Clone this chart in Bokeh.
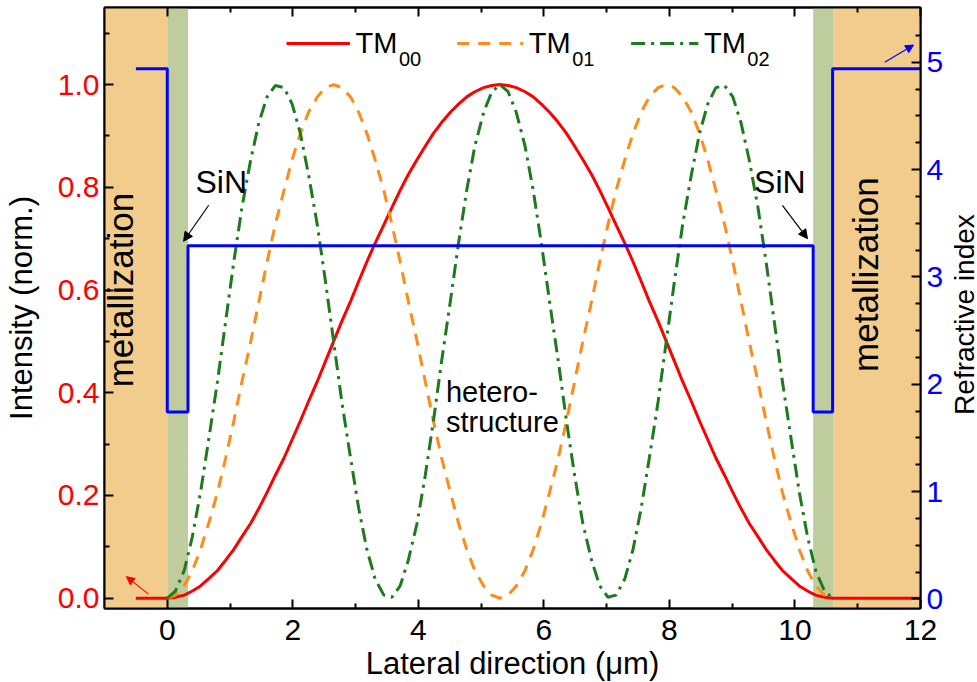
import numpy as np
from bokeh.plotting import figure
from bokeh.layouts import row
from bokeh.models import (Range1d, LinearAxis, FixedTicker, BoxAnnotation, Label,
                          Arrow, NormalHead, PrintfTickFormatter, CustomJSTickFormatter)
from bokeh.core.properties import value
from bokeh.embed import file_html
from bokeh.resources import INLINE

# ---------------- data ----------------
lateral_um = [0.00, 0.13, 0.27, 0.40, 0.53, 0.66, 0.80, 0.93, 1.06, 1.19, 1.33, 1.46, 1.59, 1.72,
              1.86, 1.99, 2.12, 2.25, 2.39, 2.52, 2.65, 2.78, 2.92, 3.05, 3.18, 3.31, 3.45, 3.58,
              3.71, 3.84, 3.98, 4.11, 4.24, 4.37, 4.51, 4.64, 4.77, 4.90, 5.04, 5.17, 5.30, 5.43,
              5.56, 5.70, 5.83, 5.96, 6.09, 6.23, 6.36, 6.49, 6.62, 6.76, 6.89, 7.02, 7.15, 7.29,
              7.42, 7.55, 7.68, 7.82, 7.95, 8.08, 8.21, 8.35, 8.48, 8.61, 8.74, 8.88, 9.01, 9.14,
              9.27, 9.41, 9.54, 9.67, 9.80, 9.94, 10.07, 10.20, 10.33, 10.47, 10.60]

tm00 = [0.000, 0.002, 0.006, 0.014, 0.024, 0.038, 0.054, 0.074, 0.095, 0.120, 0.146, 0.175, 0.206,
        0.239, 0.273, 0.309, 0.345, 0.383, 0.422, 0.461, 0.500, 0.539, 0.578, 0.617, 0.655, 0.691,
        0.727, 0.761, 0.794, 0.825, 0.854, 0.880, 0.905, 0.926, 0.946, 0.962, 0.976, 0.986, 0.994,
        0.998, 1.000, 0.998, 0.994, 0.986, 0.976, 0.962, 0.946, 0.926, 0.905, 0.880, 0.854, 0.825,
        0.794, 0.761, 0.727, 0.691, 0.655, 0.617, 0.578, 0.539, 0.500, 0.461, 0.422, 0.383, 0.345,
        0.309, 0.273, 0.239, 0.206, 0.175, 0.146, 0.120, 0.095, 0.074, 0.054, 0.038, 0.024, 0.014,
        0.006, 0.002, 0.000]

tm01 = [0.000, 0.006, 0.024, 0.054, 0.095, 0.146, 0.206, 0.273, 0.345, 0.422, 0.500, 0.578, 0.655,
        0.727, 0.794, 0.854, 0.905, 0.946, 0.976, 0.994, 1.000, 0.994, 0.976, 0.946, 0.905, 0.854,
        0.794, 0.727, 0.655, 0.578, 0.500, 0.422, 0.345, 0.273, 0.206, 0.146, 0.095, 0.054, 0.024,
        0.006, 0.000, 0.006, 0.024, 0.054, 0.095, 0.146, 0.206, 0.273, 0.345, 0.422, 0.500, 0.578,
        0.655, 0.727, 0.794, 0.854, 0.905, 0.946, 0.976, 0.994, 1.000, 0.994, 0.976, 0.946, 0.905,
        0.854, 0.794, 0.727, 0.655, 0.578, 0.500, 0.422, 0.345, 0.273, 0.206, 0.146, 0.095, 0.054,
        0.024, 0.006, 0.000]

tm02 = [0.000, 0.014, 0.054, 0.120, 0.206, 0.309, 0.422, 0.539, 0.655, 0.761, 0.854, 0.926, 0.976,
        0.998, 0.994, 0.962, 0.905, 0.825, 0.727, 0.617, 0.500, 0.383, 0.273, 0.175, 0.095, 0.038,
        0.006, 0.002, 0.024, 0.074, 0.146, 0.239, 0.345, 0.461, 0.578, 0.691, 0.794, 0.880, 0.946,
        0.986, 1.000, 0.986, 0.946, 0.880, 0.794, 0.691, 0.578, 0.461, 0.345, 0.239, 0.146, 0.074,
        0.024, 0.002, 0.006, 0.038, 0.095, 0.175, 0.273, 0.383, 0.500, 0.617, 0.727, 0.825, 0.905,
        0.962, 0.994, 0.998, 0.976, 0.926, 0.854, 0.761, 0.655, 0.539, 0.422, 0.309, 0.206, 0.120,
        0.054, 0.014, 0.000]

# TM00 outside the waveguide (flat zero in the metallization)
tm00_left_x, tm00_left_y = [-0.5], [0.0]
tm00_right_x, tm00_right_y = [12.0], [0.0]

# refractive index step profile
index_x = [-0.5, 0.0, 0.0, 0.33, 0.33, 10.29, 10.29, 10.6, 10.6, 12.0]
index_n = [4.94, 4.94, 1.74, 1.74, 3.29, 3.29, 1.74, 1.74, 4.94, 4.94]

# layer boundaries (µm)
metal_left = (-1.0, 0.0)
sin_left = (0.0, 0.33)
sin_right = (10.29, 10.61)
metal_right = (10.61, 12.0)

lateral_ticks = [0, 2, 4, 6, 8, 10, 12]
lateral_minor = [1, 3, 5, 7, 9, 11]
intensity_ticks = [0.0, 0.2, 0.4, 0.6, 0.8, 1.0]
intensity_minor = [0.1, 0.3, 0.5, 0.7, 0.9, 1.1]
index_ticks = [0, 1, 2, 3, 4, 5]
index_minor = [0.25, 0.5, 0.75, 1.25, 1.5, 1.75, 2.25, 2.5, 2.75, 3.25, 3.5, 3.75,
               4.25, 4.5, 4.75, 5.25]

legend_names = ["TM", "TM", "TM"]
legend_subs = ["00", "01", "02"]

# ---------------- styling ----------------
FONT = "Liberation Sans"
RED = "#FF0000"
ORANGE = "#FF8C1A"
GREEN = "#1E7A1E"
BLUE = "#0000FF"
METAL = "#F2CC8C"
SIN = "#BFCC9E"

p = figure(frame_width=816, frame_height=601,
           x_range=Range1d(-1.0, 12.0), y_range=Range1d(-0.02, 1.15),
           output_backend="svg", toolbar_location=None,
           min_border_left=102, min_border_right=24, min_border_top=7, min_border_bottom=74,
           x_axis_label="Lateral direction (\u03bcm)", y_axis_label="Intensity (norm.)")
p.extra_y_ranges = {"n": Range1d(-0.09, 5.51)}
p.xgrid.visible = False
p.ygrid.visible = False
p.outline_line_color = "black"
p.outline_line_width = 2
p.background_fill_color = "white"


def style_axis(ax, color):
    ax.axis_line_width = 2
    ax.axis_line_color = "black"
    ax.major_tick_in = 9
    ax.major_tick_out = 0
    ax.minor_tick_in = 5
    ax.minor_tick_out = 0
    ax.major_tick_line_width = 2
    ax.minor_tick_line_width = 2
    ax.major_tick_line_color = "black"
    ax.minor_tick_line_color = "black"
    ax.major_label_text_font = FONT
    ax.major_label_text_font_size = "30px"
    ax.major_label_text_color = color
    ax.axis_label_text_font = FONT
    ax.axis_label_text_font_size = "31px"
    ax.axis_label_text_font_style = "normal"
    ax.axis_label_text_color = "black"


xa = p.xaxis[0]
xa.ticker = FixedTicker(ticks=lateral_ticks, minor_ticks=lateral_minor)
style_axis(xa, "black")
xa.major_label_standoff = 11
xa.axis_label_standoff = 3

ya = p.yaxis[0]
ya.ticker = FixedTicker(ticks=intensity_ticks, minor_ticks=intensity_minor)
ya.formatter = PrintfTickFormatter(format="%.1f")
style_axis(ya, RED)
ya.major_label_standoff = 5
ya.axis_label_standoff = 16

ra = LinearAxis(y_range_name="n",
                ticker=FixedTicker(ticks=index_ticks, minor_ticks=index_minor))
style_axis(ra, BLUE)
ra.major_label_standoff = 6
p.add_layout(ra, "right")

# top spine ticks only (no labels)
ta = LinearAxis(ticker=FixedTicker(ticks=lateral_ticks, minor_ticks=lateral_minor))
style_axis(ta, "black")
ta.formatter = CustomJSTickFormatter(code="return ''")
ta.major_label_text_font_size = "1px"
ta.major_label_standoff = 0
p.add_layout(ta, "above")

# ---------------- layer shading ----------------
for (l, r), c in [(metal_left, METAL), (metal_right, METAL), (sin_left, SIN), (sin_right, SIN)]:
    p.add_layout(BoxAnnotation(left=l, right=r, fill_color=c, fill_alpha=1.0,
                               line_color=None, level="underlay"))

# ---------------- curves ----------------
p.line(tm00_left_x + lateral_um + tm00_right_x, tm00_left_y + tm00 + tm00_right_y,
       line_color=RED, line_width=3)
p.line(lateral_um, tm01, line_color=ORANGE, line_width=3, line_dash="12 9")
p.line(lateral_um, tm02, line_color=GREEN, line_width=3, line_dash="14 6 3 6")
p.line(index_x, index_n, y_range_name="n", line_color=BLUE, line_width=3)

# ---------------- legend (manual, with subscripts) ----------------
leg_y = 1.08
leg_specs = [(1.90, 2.91, RED, "solid"), (4.62, 5.67, ORANGE, "12 9"), (7.39, 8.46, GREEN, "14 6 3 6")]
for (x0, x1, c, d), name, sub in zip(leg_specs, legend_names, legend_subs):
    p.line([x0, x1], [leg_y, leg_y], line_color=c, line_width=3, line_dash=d)
    p.add_layout(Label(x=x1 + 0.09, y=leg_y, text=name, text_font=FONT, text_font_size="29px",
                       text_baseline="middle", text_align="left", text_color="black"))
    p.add_layout(Label(x=x1 + 0.78, y=leg_y - 0.03, text=sub, text_font=FONT,
                       text_font_size="20px", text_baseline="middle", text_align="left",
                       text_color="black"))

# ---------------- annotations ----------------
def txt(x, y, s, size="30px", angle=0.0, align="center", base="middle", yr="default"):
    p.add_layout(Label(x=x, y=y, text=s, text_font=FONT, text_font_size=size, angle=angle,
                       text_align=align, text_baseline=base, text_color="black",
                       y_range_name=yr))

txt(-0.74, 0.60, "metallization", size="35px", angle=np.pi / 2)
txt(11.13, 0.63, "metallization", size="35px", angle=np.pi / 2)
txt(0.86, 0.81, "SiN", size="32px")
txt(9.76, 0.81, "SiN", size="32px")
txt(4.44, 0.402, "hetero-", size="29px", align="left")
txt(4.44, 0.344, "structure", size="29px", align="left")

p.add_layout(Arrow(x_start=0.66, y_start=0.765, x_end=0.26, y_end=0.695,
                   line_color="black", line_width=1.2,
                   end=NormalHead(size=9, fill_color="black", line_color="black")))
p.add_layout(Arrow(x_start=9.8, y_start=0.765, x_end=10.2, y_end=0.70,
                   line_color="black", line_width=1.2,
                   end=NormalHead(size=9, fill_color="black", line_color="black")))
p.add_layout(Arrow(x_start=-0.30, y_start=0.008, x_end=-0.65, y_end=0.042,
                   line_color=RED, line_width=1.2,
                   end=NormalHead(size=8, fill_color=RED, line_color=RED)))
p.add_layout(Arrow(x_start=11.43, y_start=5.0, x_end=11.89, y_end=5.16, y_range_name="n",
                   line_color=BLUE, line_width=1.2,
                   end=NormalHead(size=8, fill_color=BLUE, line_color=BLUE)))

# ---------------- right axis title (separate narrow strip, reads bottom-to-top) -------------
strip = figure(width=35, height=682, x_range=Range1d(0, 35), y_range=Range1d(0, 682),
               output_backend="svg", toolbar_location=None,
               x_axis_location=None, y_axis_location=None, min_border=0)
strip.xgrid.visible = False
strip.ygrid.visible = False
strip.outline_line_color = None
strip.text(x=[17.5], y=[333], text=["Refractive index"], angle=np.pi / 2,
           text_align="center", text_baseline="middle", text_color="black",
           text_font=value(FONT), text_font_size=value("28px"))

layout = row(p, strip, spacing=0)
open("out.html", "w").write(file_html(layout, INLINE))
